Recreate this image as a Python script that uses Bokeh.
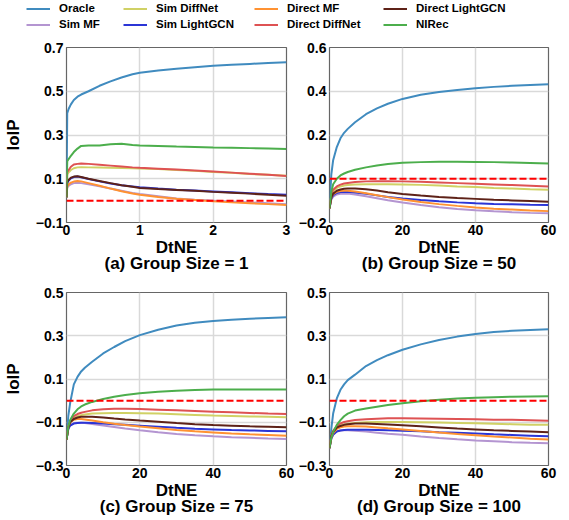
from bokeh.plotting import figure
from bokeh.models import Span, Legend, LegendItem, FixedTicker, Title, Range1d
from bokeh.layouts import column, row
from bokeh.embed import file_html
from bokeh.resources import INLINE

FONT = "Liberation Sans"

series = ["Oracle", "Sim MF", "Sim DiffNet", "Sim LightGCN",
          "Direct MF", "Direct DiffNet", "Direct LightGCN", "NIRec"]
colors = ["#408bbf", "#b495d1", "#d0d165", "#2b35d6",
          "#ff9232", "#de5253", "#5e2218", "#4cae4c"]

# ---------------- panel (a): group size 1 ----------------
x_a = [0, 0.01, 0.03, 0.06, 0.1, 0.15, 0.2, 0.3, 0.45, 0.6, 0.75, 0.9, 1.0,
       1.25, 1.5, 1.75, 2.0, 2.25, 2.5, 2.75, 3.0]
oracle_a = [0.015, 0.40, 0.42, 0.44, 0.46, 0.475, 0.485, 0.50, 0.525, 0.545, 0.563,
            0.578, 0.585, 0.595, 0.603, 0.61, 0.617, 0.621, 0.625, 0.629, 0.633]
simmf_a = [0.015, 0.06, 0.068, 0.075, 0.08, 0.082, 0.08, 0.075, 0.066, 0.055, 0.045,
           0.035, 0.03, 0.02, 0.01, 0.004, 0.0, -0.004, -0.008, -0.012, -0.016]
simdiff_a = [0.015, 0.12, 0.13, 0.14, 0.148, 0.152, 0.153, 0.152, 0.151, 0.15, 0.149,
             0.148, 0.147, 0.144, 0.14, 0.136, 0.131, 0.127, 0.122, 0.118, 0.114]
simlgcn_a = [0.015, 0.08, 0.092, 0.102, 0.108, 0.11, 0.107, 0.099, 0.088, 0.078, 0.07,
             0.065, 0.061, 0.055, 0.05, 0.046, 0.042, 0.038, 0.034, 0.03, 0.027]
dirmf_a = [0.015, 0.065, 0.075, 0.082, 0.087, 0.09, 0.088, 0.08, 0.068, 0.055, 0.043,
           0.033, 0.027, 0.017, 0.009, 0.003, -0.003, -0.008, -0.012, -0.016, -0.02]
dirdiff_a = [0.015, 0.13, 0.14, 0.155, 0.165, 0.168, 0.17, 0.168, 0.164, 0.16, 0.156,
             0.152, 0.15, 0.146, 0.142, 0.138, 0.133, 0.128, 0.123, 0.118, 0.113]
dirlgcn_a = [0.015, 0.085, 0.095, 0.105, 0.11, 0.111, 0.108, 0.1, 0.09, 0.08, 0.07,
             0.063, 0.058, 0.053, 0.049, 0.045, 0.04, 0.036, 0.032, 0.027, 0.022]
nirec_a = [0.015, 0.18, 0.19, 0.205, 0.222, 0.238, 0.25, 0.252, 0.252, 0.258, 0.26,
           0.254, 0.252, 0.25, 0.247, 0.245, 0.243, 0.242, 0.24, 0.238, 0.236]

# ---------------- shared x for panels (b), (c), (d) ----------------
x_big = [0, 0.5, 1, 2, 3, 4, 5, 7, 10, 13, 16, 20, 25, 30, 35, 40, 45, 50, 55, 60]

# ---------------- panel (b): group size 50 ----------------
oracle_b = [-0.135, 0.02, 0.085, 0.145, 0.185, 0.21, 0.228, 0.258, 0.295, 0.322,
            0.343, 0.365, 0.384, 0.397, 0.406, 0.414, 0.42, 0.425, 0.429, 0.432]
simmf_b = [-0.135, -0.095, -0.082, -0.072, -0.069, -0.068, -0.068, -0.072, -0.08, -0.089,
           -0.098, -0.109, -0.12, -0.13, -0.138, -0.144, -0.149, -0.153, -0.156, -0.158]
simdiff_b = [-0.135, -0.075, -0.057, -0.042, -0.035, -0.031, -0.029, -0.026, -0.025, -0.025,
             -0.025, -0.026, -0.028, -0.031, -0.035, -0.038, -0.042, -0.045, -0.048, -0.05]
simlgcn_b = [-0.135, -0.09, -0.075, -0.065, -0.061, -0.06, -0.06, -0.063, -0.069, -0.076,
             -0.083, -0.09, -0.097, -0.103, -0.108, -0.112, -0.115, -0.117, -0.119, -0.12]
dirmf_b = [-0.135, -0.085, -0.07, -0.06, -0.056, -0.055, -0.055, -0.058, -0.066, -0.075,
           -0.084, -0.095, -0.106, -0.116, -0.124, -0.131, -0.137, -0.141, -0.145, -0.148]
dirdiff_b = [-0.135, -0.07, -0.05, -0.035, -0.027, -0.022, -0.019, -0.015, -0.012, -0.011,
             -0.011, -0.012, -0.014, -0.017, -0.02, -0.023, -0.026, -0.029, -0.032, -0.035]
dirlgcn_b = [-0.135, -0.085, -0.068, -0.055, -0.049, -0.046, -0.045, -0.045, -0.048, -0.054,
             -0.062, -0.07, -0.077, -0.083, -0.088, -0.092, -0.096, -0.099, -0.102, -0.105]
nirec_b = [-0.135, -0.06, -0.025, 0.0, 0.015, 0.024, 0.031, 0.041, 0.052, 0.061,
           0.067, 0.073, 0.076, 0.078, 0.078, 0.077, 0.076, 0.074, 0.072, 0.07]

# ---------------- panel (c): group size 75 ----------------
oracle_c = [-0.18, -0.07, -0.01, 0.075, 0.11, 0.135, 0.152, 0.18, 0.218, 0.248,
            0.275, 0.303, 0.328, 0.347, 0.36, 0.368, 0.374, 0.379, 0.382, 0.385]
simmf_c = [-0.18, -0.13, -0.113, -0.104, -0.102, -0.102, -0.104, -0.108, -0.115, -0.122,
           -0.129, -0.137, -0.146, -0.154, -0.16, -0.165, -0.169, -0.172, -0.175, -0.177]
simdiff_c = [-0.18, -0.125, -0.1, -0.08, -0.072, -0.067, -0.064, -0.06, -0.058, -0.057,
             -0.057, -0.058, -0.06, -0.063, -0.066, -0.069, -0.071, -0.073, -0.075, -0.077]
simlgcn_c = [-0.18, -0.13, -0.115, -0.106, -0.103, -0.102, -0.102, -0.103, -0.106, -0.109,
             -0.112, -0.116, -0.121, -0.126, -0.13, -0.133, -0.136, -0.138, -0.14, -0.142]
dirmf_c = [-0.18, -0.12, -0.1, -0.088, -0.085, -0.085, -0.087, -0.092, -0.1, -0.107,
           -0.113, -0.12, -0.128, -0.136, -0.142, -0.147, -0.152, -0.156, -0.159, -0.162]
dirdiff_c = [-0.18, -0.12, -0.095, -0.072, -0.062, -0.056, -0.052, -0.045, -0.04, -0.038,
             -0.038, -0.039, -0.042, -0.045, -0.048, -0.051, -0.054, -0.057, -0.06, -0.062]
dirlgcn_c = [-0.18, -0.125, -0.1, -0.085, -0.078, -0.075, -0.074, -0.075, -0.078, -0.083,
             -0.087, -0.092, -0.098, -0.104, -0.109, -0.113, -0.116, -0.119, -0.121, -0.123]
nirec_c = [-0.18, -0.12, -0.09, -0.06, -0.04, -0.027, -0.018, -0.006, 0.008, 0.018,
           0.026, 0.034, 0.041, 0.046, 0.049, 0.051, 0.052, 0.052, 0.052, 0.052]

# ---------------- panel (d): group size 100 ----------------
oracle_d = [-0.22, -0.13, -0.06, 0.01, 0.05, 0.075, 0.095, 0.12, 0.16, 0.187,
            0.21, 0.235, 0.26, 0.28, 0.296, 0.308, 0.317, 0.323, 0.327, 0.33]
simmf_d = [-0.22, -0.175, -0.155, -0.142, -0.138, -0.137, -0.137, -0.139, -0.143, -0.148,
           -0.153, -0.158, -0.166, -0.173, -0.179, -0.184, -0.188, -0.192, -0.195, -0.197]
simdiff_d = [-0.22, -0.165, -0.145, -0.125, -0.115, -0.11, -0.107, -0.103, -0.1, -0.099,
             -0.099, -0.099, -0.1, -0.101, -0.103, -0.105, -0.107, -0.109, -0.111, -0.112]
simlgcn_d = [-0.22, -0.175, -0.158, -0.143, -0.138, -0.136, -0.135, -0.135, -0.135, -0.136,
             -0.137, -0.139, -0.142, -0.146, -0.149, -0.152, -0.156, -0.159, -0.162, -0.165]
dirmf_d = [-0.22, -0.17, -0.15, -0.13, -0.123, -0.12, -0.119, -0.118, -0.12, -0.124,
           -0.128, -0.133, -0.14, -0.147, -0.154, -0.16, -0.166, -0.171, -0.176, -0.18]
dirdiff_d = [-0.22, -0.16, -0.14, -0.118, -0.106, -0.099, -0.095, -0.09, -0.086, -0.084,
             -0.082, -0.082, -0.083, -0.084, -0.085, -0.086, -0.088, -0.089, -0.091, -0.093]
dirlgcn_d = [-0.22, -0.165, -0.145, -0.125, -0.117, -0.112, -0.109, -0.106, -0.106, -0.108,
             -0.11, -0.114, -0.119, -0.124, -0.129, -0.133, -0.137, -0.14, -0.143, -0.146]
nirec_d = [-0.22, -0.17, -0.145, -0.112, -0.09, -0.072, -0.06, -0.046, -0.036, -0.028,
           -0.02, -0.012, -0.003, 0.004, 0.01, 0.013, 0.016, 0.018, 0.019, 0.02]

# ---------------- axes ----------------
xticks_a = [0, 1, 2, 3]
xticks_big = [0, 20, 40, 60]
yticks_a = [-0.1, 0.1, 0.3, 0.5, 0.7]
ylabels_a = ["\u22120.1", "0.1", "0.3", "0.5", "0.7"]
yticks_b = [-0.2, 0.0, 0.2, 0.4, 0.6]
ylabels_b = ["\u22120.2", "0.0", "0.2", "0.4", "0.6"]
yticks_cd = [-0.3, -0.1, 0.1, 0.3, 0.5]
ylabels_cd = ["\u22120.3", "\u22120.1", "0.1", "0.3", "0.5"]
baseline = 0.0

titles = ["(a) Group Size = 1", "(b) Group Size = 50",
          "(c) Group Size = 75", "(d) Group Size = 100"]


def make_panel(x, ys, xr, yr, xticks, yticks, ylabels, title, ylabel,
               fw, fh, bl, br, bt, bb):
    p = figure(frame_width=fw, frame_height=fh,
               x_range=Range1d(*xr), y_range=Range1d(*yr),
               output_backend="svg", toolbar_location=None, title=None,
               min_border_left=bl, min_border_right=br,
               min_border_top=bt, min_border_bottom=bb,
               background_fill_color="white", border_fill_color="white")
    p.outline_line_color = "#666666"
    p.outline_line_width = 1.2
    p.xaxis.ticker = FixedTicker(ticks=xticks)
    p.yaxis.ticker = FixedTicker(ticks=yticks)
    p.xaxis.major_label_overrides = {t: str(t) for t in xticks}
    p.yaxis.major_label_overrides = dict(zip(yticks, ylabels))
    for ax in (p.xaxis[0], p.yaxis[0]):
        ax.axis_line_color = None
        ax.major_tick_out = 0
        ax.major_tick_in = 0
        ax.minor_tick_line_color = None
        ax.major_label_text_font = FONT
        ax.major_label_text_font_style = "bold"
        ax.major_label_text_font_size = "14px"
        ax.major_label_text_color = "black"
        ax.axis_label_text_font = FONT
        ax.axis_label_text_font_style = "bold"
        ax.axis_label_text_font_size = "17px"
        ax.axis_label_text_color = "black"
    p.xaxis.major_label_standoff = 2
    p.yaxis.major_label_standoff = 3
    p.xaxis.axis_label = "DtNE"
    p.xaxis.axis_label_standoff = 0
    if ylabel:
        p.yaxis.axis_label = ylabel
        p.yaxis.axis_label_standoff = 10
    p.grid.grid_line_color = "#d9d9d9"
    p.grid.grid_line_width = 1.5
    for name, col, y in zip(series, colors, ys):
        p.line(x, y, line_color=col, line_width=2)
    p.add_layout(Span(location=baseline, dimension="width", line_color="#ff0000",
                      line_width=2, line_dash="7 3"))
    p.add_layout(Title(text=title, align="center", vertical_align="top",
                       text_font=FONT, text_font_style="bold", text_font_size="17px",
                       text_color="black", standoff=-11), "below")
    return p


pa = make_panel(x_a, [oracle_a, simmf_a, simdiff_a, simlgcn_a, dirmf_a, dirdiff_a, dirlgcn_a, nirec_a],
                (0, 3), (-0.1, 0.7), xticks_a, yticks_a, ylabels_a, titles[0], "IoIP",
                220, 175, 66, 8, 12, 58)
pb = make_panel(x_big, [oracle_b, simmf_b, simdiff_b, simlgcn_b, dirmf_b, dirdiff_b, dirlgcn_b, nirec_b],
                (0, 60), (-0.2, 0.6), xticks_big, yticks_b, ylabels_b, titles[1], None,
                219, 175, 35, 13, 12, 58)
pc = make_panel(x_big, [oracle_c, simmf_c, simdiff_c, simlgcn_c, dirmf_c, dirdiff_c, dirlgcn_c, nirec_c],
                (0, 60), (-0.3, 0.5), xticks_big, yticks_cd, ylabels_cd, titles[2], "IoIP",
                220, 173, 66, 8, 12, 50)
pd_ = make_panel(x_big, [oracle_d, simmf_d, simdiff_d, simlgcn_d, dirmf_d, dirdiff_d, dirlgcn_d, nirec_d],
                 (0, 60), (-0.3, 0.5), xticks_big, yticks_cd, ylabels_cd, titles[3], None,
                 219, 173, 35, 13, 12, 50)

# ---------------- legend strip ----------------
# the swatch renderers carry real data but sit outside this strip's visible range
lg = figure(width=561, height=35, x_range=Range1d(0, 1), y_range=Range1d(10, 11),
            x_axis_type=None, y_axis_type=None, output_backend="svg",
            toolbar_location=None, title=None, min_border=0)
lg.outline_line_color = None
lg.grid.visible = False
lg_series = [oracle_a, simmf_a, simdiff_a, simlgcn_a, dirmf_a, dirdiff_a, dirlgcn_a, nirec_a]
rends = [lg.line(x=x_a, y=s, line_color=c, line_width=2) for s, c in zip(lg_series, colors)]
col_x = [26, 123, 254, 383]
for ci, cx in enumerate(col_x):
    items = [LegendItem(label=series[2 * ci + k], renderers=[rends[2 * ci + k]]) for k in range(2)]
    leg = Legend(items=items, location=(cx, 4.5), orientation="vertical",
                 padding=0, margin=0, spacing=3, glyph_width=24, glyph_height=13,
                 label_height=13, label_standoff=9,
                 label_text_font=FONT, label_text_font_style="bold",
                 label_text_font_size="11.5px", label_text_color="black",
                 border_line_alpha=0, background_fill_alpha=0)
    lg.add_layout(leg)

layout = column(lg, row(pa, pb), row(pc, pd_))
open("out.html", "w").write(file_html(layout, INLINE))
